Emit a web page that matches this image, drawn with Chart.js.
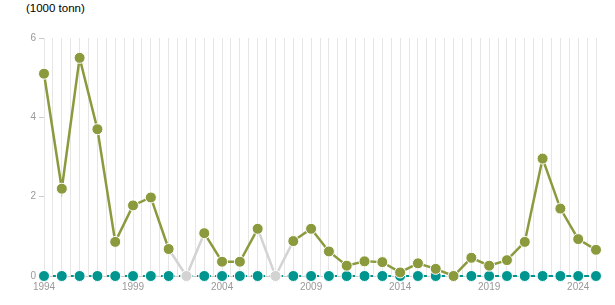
<!DOCTYPE html>
<html>
<head>
<meta charset="utf-8">
<script src="https://cdn.jsdelivr.net/npm/chart.js@4/dist/chart.umd.min.js"></script>
<style>
  html, body { margin: 0; padding: 0; background: #fff; }
  #wrap { position: relative; width: 615px; height: 305px; }
  #title { position: absolute; left: 26px; top: 2px; font: 11.5px "Liberation Sans", Arial, sans-serif; color: #000; }
  canvas { position: absolute; left: 0; top: 0; }
</style>
</head>
<body>
<div id="wrap">
  <div id="title">(1000 tonn)</div>
  <canvas id="c" width="615" height="305"></canvas>
</div>
<script>
// Categories (years)
const years = ['1994','1995','1996','1997','1998','1999','2000','2001','2002','2003','2004','2005','2006','2007','2008','2009','2010','2011','2012','2013','2014','2015','2016','2017','2018','2019','2020','2021','2022','2023','2024','2025'];
// Olive series (1000 tonn); null = no figure (drawn grey at 0)
const seriesA = [5.1, 2.2, 5.5, 3.7, 0.86, 1.78, 1.98, 0.68, null, 1.08, 0.36, 0.36, 1.19, null, 0.88, 1.19, 0.62, 0.26, 0.37, 0.35, 0.09, 0.32, 0.18, 0, 0.46, 0.26, 0.4, 0.86, 2.96, 1.7, 0.93, 0.66];
// Teal series (1000 tonn)
const seriesB = [0,0,0,0,0,0,0,0,0,0,0,0,0,0,0,0,0,0,0,0,0,0,0,0,0,0,0,0,0,0,0,0];
// Tick labels
const yTicks = [0, 2, 4, 6];
const xLabelYears = ['1994','1999','2004','2009','2014','2019','2024'];

const OLIVE = '#8c9a3e', TEAL = '#00968f', GREY = '#d3d3d3', GRID = '#e6e6e6';
const isMissing = i => seriesA[i] === null;

new Chart(document.getElementById('c'), {
  type: 'line',
  data: {
    labels: years,
    datasets: [
      {
        data: seriesA.map(v => v === null ? 0 : v),
        borderColor: OLIVE,
        borderWidth: 2.5,
        pointRadius: 5.5,
        pointBorderWidth: 1,
        pointBorderColor: '#fff',
        pointBackgroundColor: seriesA.map((v, i) => isMissing(i) ? GREY : OLIVE),
        pointHoverRadius: 5.5,
        tension: 0,
        clip: false,
        segment: {
          borderColor: ctx => (isMissing(ctx.p0DataIndex) || isMissing(ctx.p1DataIndex)) ? GREY : OLIVE
        }
      },
      {
        data: seriesB,
        borderColor: TEAL,
        borderWidth: 2,
        borderDash: [5, 4],
        pointRadius: 5.5,
        pointBorderWidth: 1,
        pointBorderColor: '#fff',
        pointBackgroundColor: TEAL,
        tension: 0,
        clip: false
      }
    ]
  },
  options: {
    responsive: false,
    animation: false,
    events: [],
    layout: { padding: { top: 38, right: 19, bottom: 0, left: 0 } },
    plugins: { legend: { display: false }, tooltip: { enabled: false }, title: { display: false } },
    scales: {
      x: {
        type: 'category',
        offset: false,
        grid: { color: GRID, lineWidth: 1, drawTicks: false },
        border: { display: true, color: '#cccccc' },
        ticks: {
          autoSkip: false, maxRotation: 0, padding: 5,
          color: '#999999',
          font: { family: '"Liberation Sans", Arial, sans-serif', size: 10 },
          callback: function(v, i) { const l = years[i]; return xLabelYears.includes(l) ? l : ''; }
        },
        afterFit: s => { s.height = 29; }
      },
      xHalf: {
        type: 'linear',
        position: 'bottom',
        min: 0, max: years.length - 1,
        z: 1,
        afterBuildTicks: s => { s.ticks = years.slice(1).map((y, i) => ({ value: i + 0.5 })); },
        grid: { color: GRID, lineWidth: 1, drawTicks: false },
        border: { display: false },
        ticks: { display: false },
        afterFit: s => { s.height = 0; }
      },
      y: {
        min: 0, max: 6,
        afterBuildTicks: s => { s.ticks = yTicks.map(v => ({ value: v })); },
        grid: { drawOnChartArea: false, drawTicks: true, tickLength: 5, tickColor: '#cccccc' },
        border: { display: false },
        ticks: {
          padding: 3, color: '#999999',
          font: { family: '"Liberation Sans", Arial, sans-serif', size: 10 }
        },
        afterFit: s => { s.width = 44; }
      }
    }
  }
});
</script>
</body>
</html>
